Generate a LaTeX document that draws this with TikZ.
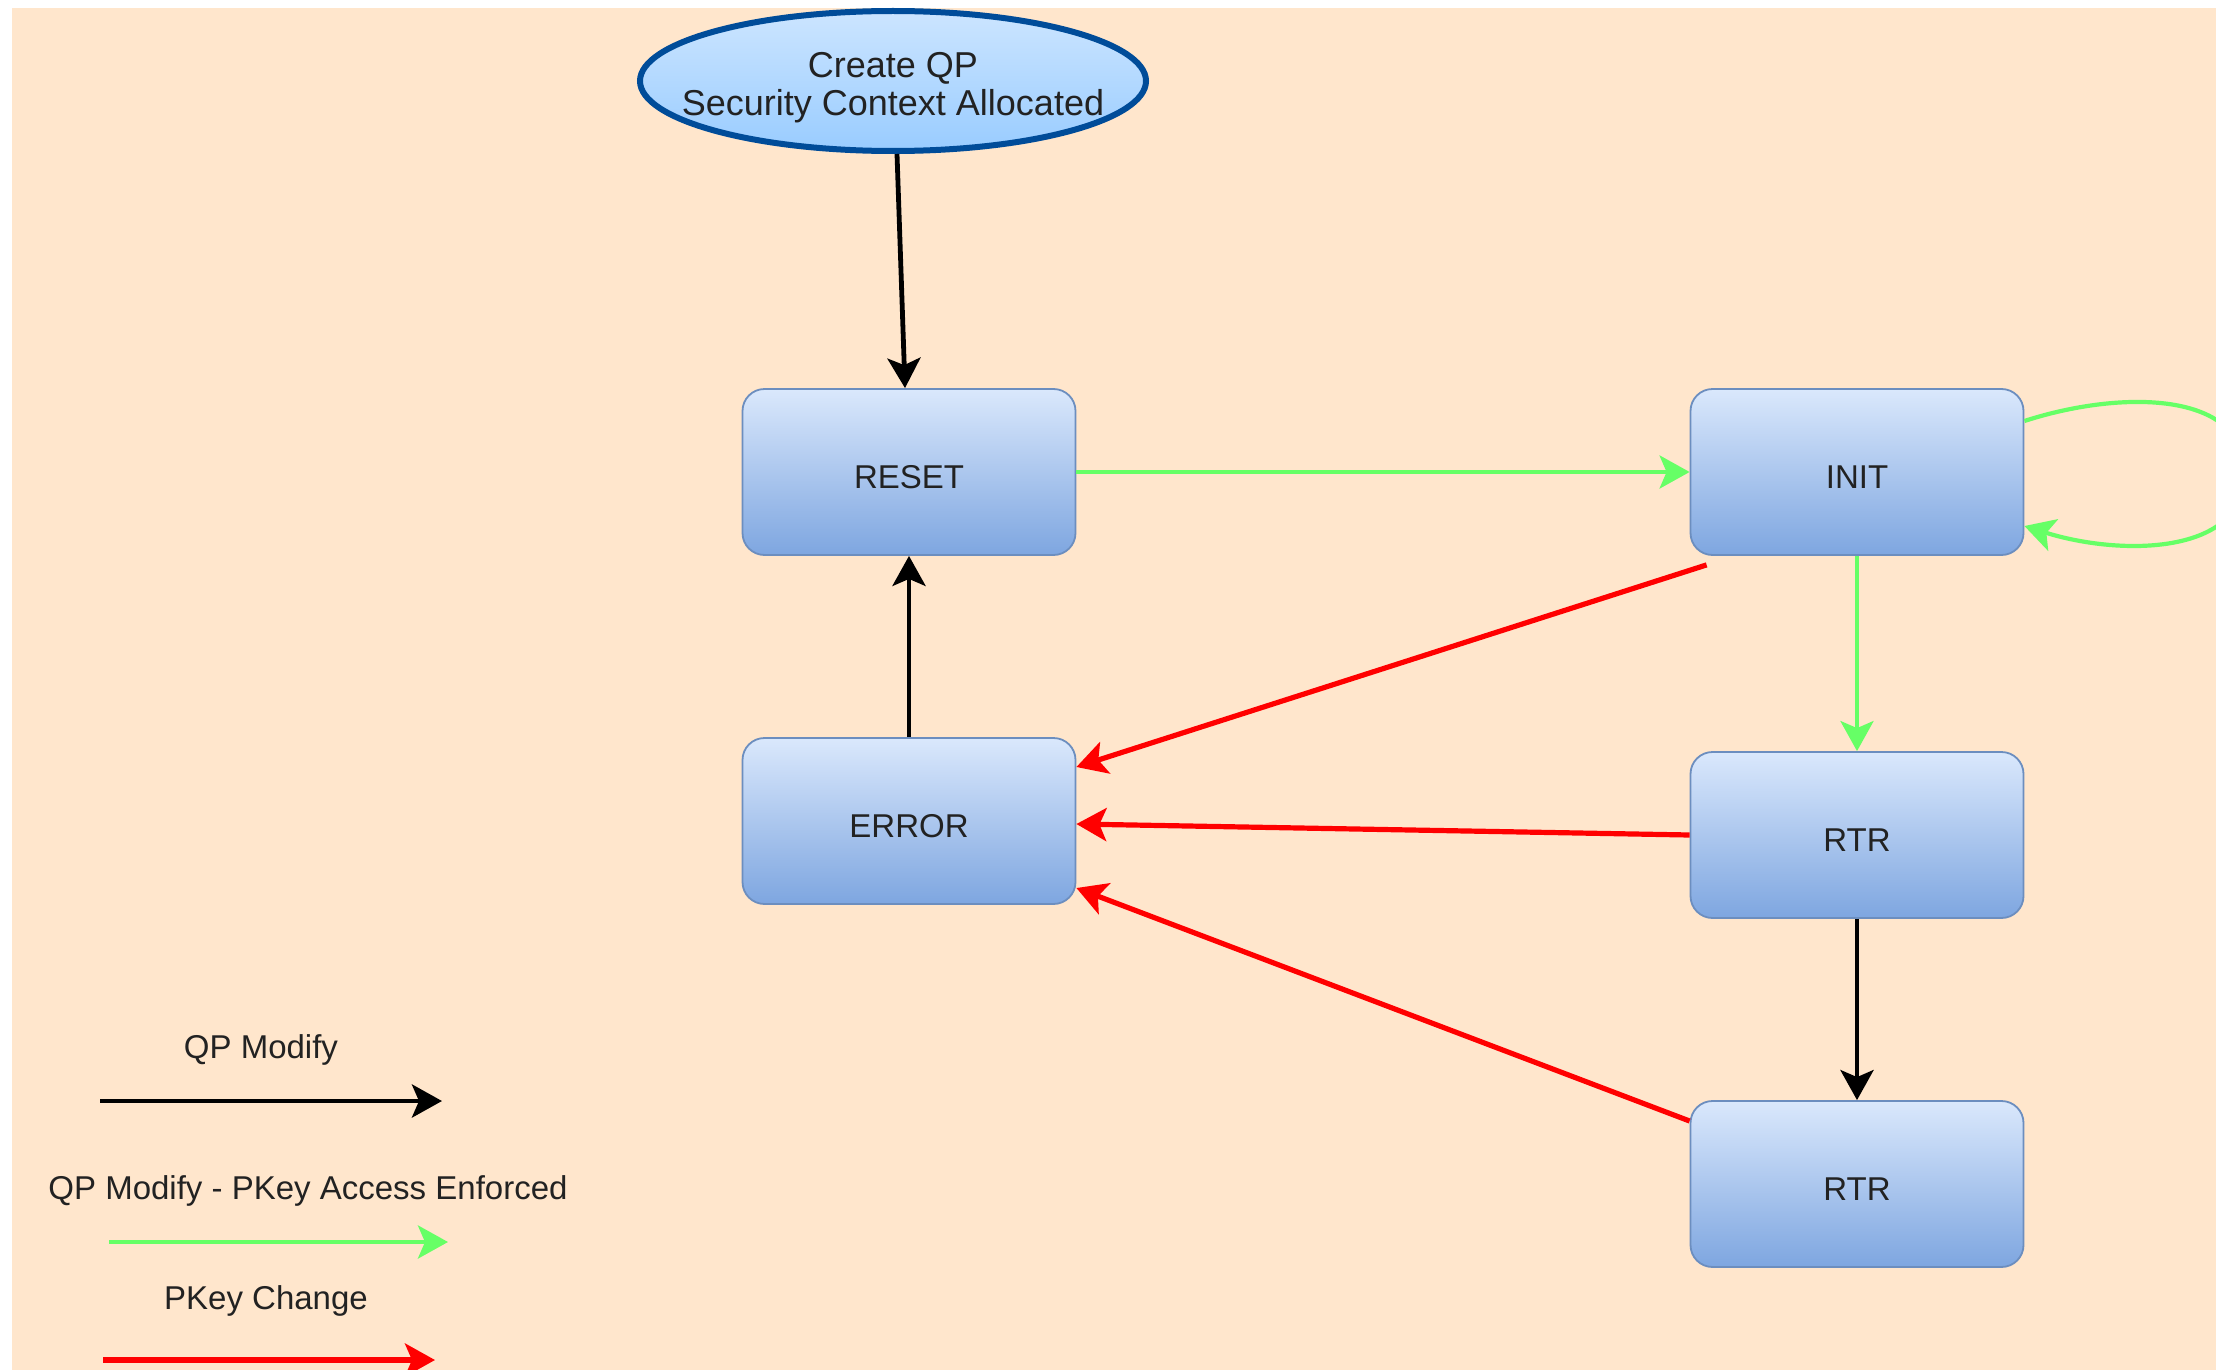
\documentclass[tikz,border=0pt]{standalone}
\usepackage{fontspec}
\setmainfont{Liberation Sans}
\usetikzlibrary{arrows.meta,shapes.geometric}

\definecolor{peach}{HTML}{FFE6CC}
\definecolor{boxtop}{HTML}{DAE8FC}
\definecolor{boxbot}{HTML}{7EA6E0}
\definecolor{boxline}{HTML}{6C8EBF}
\definecolor{elltop}{HTML}{CCE5FF}
\definecolor{ellbot}{HTML}{99CCFF}
\definecolor{ellline}{HTML}{004C99}
\definecolor{okgreen}{HTML}{66FF66}
\definecolor{txt}{HTML}{222222}

\tikzset{
  state/.style={rectangle, rounded corners=22pt, draw=boxline, line width=1.8pt,
    top color=boxtop, bottom color=boxbot, minimum width=333pt, minimum height=166pt,
    inner sep=0pt, text=txt, font=\fontsize{33}{40}\selectfont,
    text height=32pt, text depth=0pt},
  startnode/.style={ellipse, draw=ellline, line width=6pt,
    top color=elltop, bottom color=ellbot, minimum width=506pt, minimum height=140pt,
    inner sep=0pt},
  startlabel/.style={text=txt, align=center, inner sep=0pt,
    font=\fontsize{36}{38}\selectfont},
  tip/.style={-{Stealth[length=30pt,width=33pt,inset=7pt]}},
  modify/.style={tip, draw=black, line width=4.8pt},
  enforced/.style={tip, draw=okgreen, line width=4.2pt},
  pkey/.style={tip, draw=red, line width=5.2pt},
  legendtext/.style={text=txt, font=\fontsize{33}{40}\selectfont, inner sep=0pt,
    text height=31pt, text depth=7pt}
}

\begin{document}
\begin{tikzpicture}[x=1pt, y=-1pt]
  \useasboundingbox (0,0) rectangle (2216,1370);
  \fill[white] (0,0) rectangle (2216,1370);
  \fill[peach] (12,8) rectangle (2216,1370);

  % states
  \node[startnode, label={[startlabel, yshift=-7pt]center:Create QP\\Security Context Allocated}]
    (create) at (893,81) {};
  \node[state] (reset) at (909,472) {RESET};
  \node[state] (init)  at (1857,472) {INIT};
  \node[state] (error) at (909,821) {ERROR};
  \node[state] (rtr1)  at (1857,835) {RTR};
  \node[state] (rtr2)  at (1857,1184) {RTR};

  % QP modify transitions
  \draw[modify] ([xshift=4pt]create.south) -- ([xshift=-4pt]reset.north);
  \draw[modify] (error.north) -- (reset.south);
  \draw[modify] (rtr1.south) -- (rtr2.north);

  % PKey-enforced transitions
  \draw[enforced] (reset.east) -- (init.west);
  \draw[enforced] (init.south) -- (rtr1.north);
  \draw[enforced] ([yshift=51pt]init.east) .. controls (2120,390) and (2245,390) .. (2245,473)
    .. controls (2245,556) and (2120,556) .. ([yshift=-54pt]init.east);

  % PKey change transitions
  \draw[pkey] ([xshift=17pt,yshift=-9pt]init.south west) -- ([yshift=54pt]error.east);
  \draw[pkey] (rtr1.west) -- ([yshift=-3pt]error.east);
  \draw[pkey] ([yshift=63pt]rtr2.west) -- ([yshift=-67pt]error.east);

  % legend
  \node[legendtext] (lgmod) at (261,1046) {QP Modify};
  \coordinate (lgmodA) at (100,1101);
  \coordinate (lgmodB) at (442,1101);
  \draw[modify] (lgmodA) -- (lgmodB);

  \node[legendtext] (lgenf) at (308,1187) {QP Modify - PKey Access Enforced};
  \coordinate (lgenfA) at (109,1242);
  \coordinate (lgenfB) at (448,1242);
  \draw[enforced] (lgenfA) -- (lgenfB);

  \node[legendtext] (lgpk) at (266,1297) {PKey Change};
  \coordinate (lgpkA) at (103,1360);
  \coordinate (lgpkB) at (435,1360);
  \draw[pkey] (lgpkA) -- (lgpkB);
\end{tikzpicture}
\end{document}
